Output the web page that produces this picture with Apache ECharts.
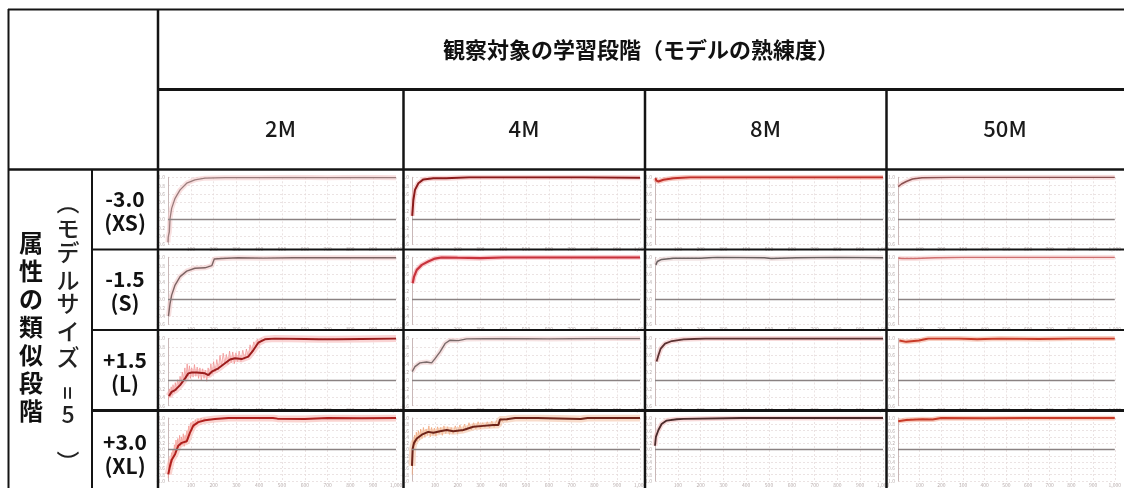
<!DOCTYPE html>
<html><head><meta charset="utf-8">
<script src="https://cdn.jsdelivr.net/npm/echarts@6/dist/echarts.min.js"></script>
<style>html,body{margin:0;padding:0;background:#fff}#c{width:1124px;height:488px}</style>
</head><body><div id="c"></div>
<script>
// ---------- data ----------
const columns = ['2M', '4M', '8M', '50M'];
const rowValues = ['-3.0', '-1.5', '+1.5', '+3.0'];
const rowSizes = ['(XS)', '(S)', '(L)', '(XL)'];
const headerTitle = '観察対象の学習段階（モデルの熟練度）';
const sideTitle = '属性の類似段階';
const sideSub = ['（', 'モ', 'デ', 'ル', 'サ', 'イ', 'ズ', '=', '5', '）'];
const xTicks = [0, 100, 200, 300, 400, 500, 600, 700, 800, 900, 1000];

const s_2M_XS = [[0,-0.55],[1,-0.42],[6,-0.3],[9,0.02],[16,0.26],[31,0.5],[53,0.7],[82,0.86],[118,0.94],[162,0.98],[250,0.99],[400,0.99],[550,1.0],[700,0.99],[850,1.0],[1000,0.99]];
const s_2M_S = [[2,-0.4],[9,-0.1],[16,0.1],[31,0.34],[53,0.54],[82,0.67],[118,0.74],[162,0.75],[192,0.8],[203,0.96],[235,0.97],[308,0.99],[420,0.98],[550,0.99],[700,0.99],[850,0.99],[1000,0.99]];
const s_2M_L = [[4,-0.37],[16,-0.27],[31,-0.23],[53,-0.11],[75,0.05],[89,0.17],[104,0.19],[126,0.19],[162,0.17],[177,0.13],[192,0.21],[221,0.29],[250,0.41],[272,0.5],[294,0.53],[323,0.51],[352,0.57],[374,0.72],[396,0.9],[425,0.98],[469,1.0],[600,0.99],[660,0.98],[740,0.98],[850,0.99],[1000,1.0]];
const s_2M_XL = [[1,-0.79],[9,-0.52],[16,-0.33],[31,-0.15],[45,0.12],[60,0.21],[82,0.26],[96,0.53],[111,0.76],[133,0.87],[162,0.93],[206,0.97],[265,1.0],[460,1.0],[480,0.98],[600,0.97],[700,1.0],[850,0.99],[1000,1.0]];
const s_4M_XS = [[1,0.08],[6,0.46],[13,0.7],[28,0.86],[50,0.95],[94,0.98],[150,0.98],[250,1.0],[500,1.0],[750,1.0],[1000,0.99]];
const s_4M_S = [[3,0.38],[9,0.54],[21,0.7],[43,0.82],[71,0.9],[101,0.97],[130,1.0],[200,0.99],[300,0.98],[400,1.0],[700,1.0],[1000,1.0]];
const s_4M_L = [[1,0.21],[13,0.33],[35,0.42],[64,0.44],[86,0.42],[101,0.52],[123,0.68],[145,0.88],[167,0.96],[203,0.95],[240,0.99],[400,1.0],[600,0.99],[800,1.0],[1000,1.0]];
const s_4M_XL = [[0,-0.52],[3,0.03],[9,0.21],[21,0.35],[43,0.47],[71,0.56],[94,0.53],[123,0.58],[152,0.62],[181,0.58],[225,0.62],[269,0.72],[313,0.75],[357,0.78],[379,0.78],[386,0.95],[415,0.96],[452,1.0],[550,1.0],[740,0.97],[770,1.0],[1000,1.0]];
const s_8M_XS = [[2,0.98],[6,0.92],[15,0.9],[37,0.94],[81,0.98],[154,1.0],[400,1.0],[700,1.0],[1000,1.0]];
const s_8M_S = [[4,0.82],[10,0.9],[29,0.95],[81,0.98],[200,0.98],[272,1.0],[480,0.99],[510,0.97],[620,0.99],[800,1.0],[1000,0.99]];
const s_8M_L = [[7,0.45],[15,0.6],[25,0.76],[44,0.88],[74,0.94],[125,0.98],[220,1.0],[500,1.0],[750,1.0],[1000,1.0]];
const s_8M_XL = [[0,0.12],[4,0.4],[15,0.62],[29,0.81],[51,0.92],[96,0.96],[125,0.97],[380,1.0],[700,1.0],[1000,1.0]];
const s_50M_XS = [[1,0.78],[16,0.84],[38,0.9],[67,0.96],[111,0.99],[250,1.0],[600,1.0],[1000,1.0]];
const s_50M_S = [[2,0.98],[20,0.97],[80,0.97],[170,0.99],[300,1.0],[600,1.0],[1000,1.0]];
const s_50M_L = [[6,0.95],[38,0.92],[97,0.95],[140,1.0],[280,1.0],[365,0.98],[470,1.0],[650,0.99],[800,1.0],[1000,1.0]];
const s_50M_XL = [[1,0.9],[38,0.94],[111,0.96],[160,0.95],[199,1.0],[400,0.99],[600,1.0],[1000,1.0]];

// noisy spread
const n_2M_L = [[2,-0.45],[6,-0.2],[10,-0.4],[14,-0.15],[18,-0.35],[22,-0.1],[27,-0.3],[32,-0.05],[37,-0.25],[42,0.02],[48,-0.15],[53,0.1],[58,-0.05],[63,0.2],[68,0.0],[74,0.3],[79,0.05],[84,0.4],[89,0.1],[94,0.35],[99,0.05],[104,0.3],[110,0.08],[116,0.38],[122,0.1],[128,0.32],[134,0.05],[140,0.3],[146,0.0],[152,0.28],[158,0.05],[164,0.25],[170,-0.02],[176,0.3],[182,0.1],[188,0.4],[194,0.15],[200,0.45],[207,0.2],[214,0.5],[221,0.25],[228,0.6],[235,0.35],[242,0.65],[249,0.4],[256,0.62],[263,0.38],[270,0.7],[277,0.42],[284,0.68],[291,0.4],[298,0.66],[305,0.45],[312,0.7],[320,0.45],[328,0.72],[336,0.5],[344,0.75],[352,0.55],[360,0.85],[368,0.65],[376,0.92],[384,0.8],[392,0.98],[400,0.85],[410,1.0],[420,0.94],[430,1.0]];
const n_2M_XL = [[1,-0.9],[4,-0.4],[7,-0.75],[10,-0.3],[13,-0.55],[16,-0.1],[19,-0.4],[22,0.0],[25,-0.25],[28,0.15],[31,-0.1],[35,0.3],[39,0.0],[43,0.35],[47,0.05],[51,0.45],[55,0.1],[59,0.4],[63,0.15],[67,0.5],[71,0.1],[75,0.45],[79,0.2],[83,0.6],[87,0.3],[91,0.75],[95,0.45],[100,0.85],[105,0.6],[110,0.9],[115,0.7],[120,0.95],[126,0.8],[132,0.98],[138,0.85],[145,1.0],[152,0.9],[160,1.0]];
const n_4M_XL = [[1,-0.8],[3,-0.2],[5,0.3],[8,0.0],[11,0.45],[15,0.15],[19,0.55],[23,0.25],[28,0.6],[33,0.3],[38,0.65],[44,0.35],[50,0.7],[56,0.4],[62,0.65],[68,0.45],[74,0.75],[80,0.4],[86,0.7],[92,0.45],[98,0.68],[105,0.42],[112,0.72],[119,0.5],[126,0.7],[133,0.45],[140,0.75],[148,0.5],[156,0.72],[164,0.48],[172,0.7],[180,0.5],[190,0.75],[200,0.5],[210,0.78],[220,0.55],[230,0.8],[240,0.6],[250,0.85],[260,0.62],[270,0.85],[280,0.65],[290,0.88],[300,0.65],[310,0.85],[320,0.7],[330,0.88],[340,0.68],[350,0.9],[360,0.7],[370,0.92],[380,0.75],[388,1.0],[396,0.88],[405,1.0],[415,0.9],[430,1.0]];

const panels = [
  [s_2M_XS, s_2M_S, s_2M_L, s_2M_XL],
  [s_4M_XS, s_4M_S, s_4M_L, s_4M_XL],
  [s_8M_XS, s_8M_S, s_8M_L, s_8M_XL],
  [s_50M_XS, s_50M_S, s_50M_L, s_50M_XL]
];
const noise = { '0_2': n_2M_L, '0_3': n_2M_XL, '1_3': n_4M_XL };

// ---------- style / layout ----------
const lineColors = [
  ['#9a7c7c', '#7d6464', '#9b1c1c', '#b0201e'],
  ['#8a1a1a', '#c8323c', '#7a6a6a', '#6e2318'],
  ['#c0302a', '#6a6060', '#5a3030', '#4a2a2a'],
  ['#8a5050', '#d07070', '#c83a28', '#c83a28']
];
const lineWidths = [
  [1.3, 1.4, 2.0, 2.0],
  [2.0, 2.2, 1.4, 2.0],
  [2.0, 1.5, 1.8, 1.8],
  [1.5, 1.6, 2.0, 2.0]
];
const bandColors = [
  ['#f4c6c6', '#f1c4c4', '#f5b0b0', '#f5b0aa'],
  ['#f3b3b3', '#f5a0a8', '#eecaca', '#f3c0a0'],
  ['#f29c90', '#e8d0d0', '#f3bcbc', '#f3bcbc'],
  ['#f0c0c0', '#f5cccc', '#f3a890', '#f3a890']
];
const noiseColors = { '0_2': '#f08a8a', '0_3': '#f2908a', '1_3': '#f0a070' };
const colLeft = [168, 412, 655, 898];
const colWidth = 228;
const rowTop = [177.3, 257.3, 338.5, 418];
const rowHeight = [67.2, 67.2, 67.2, 73];
const rowMin = [-0.6, -0.6, -0.6, -1.0];

const FONT = '"Noto Sans CJK JP", "Noto Sans", sans-serif';

const grids = [], xAxes = [], yAxes = [], series = [];
let idx = 0;
for (let c = 0; c < 4; c++) {
  for (let r = 0; r < 4; r++) {
    grids.push({ left: colLeft[c], top: rowTop[r], width: colWidth, height: rowHeight[r], containLabel: false });
    xAxes.push({
      type: 'value', gridIndex: idx, min: xTicks[0], max: xTicks[xTicks.length - 1], interval: xTicks[1] - xTicks[0],
      axisLine: { show: false }, axisTick: { show: false },
      axisLabel: { show: true, fontSize: 5, color: '#b9aeae', margin: 2, showMinLabel: false, fontFamily: FONT },
      splitLine: { show: true, lineStyle: { color: '#e6dcdc', width: 0.8, type: [2, 2] } }
    });
    yAxes.push({
      type: 'value', gridIndex: idx, min: rowMin[r], max: 1.0, interval: 0.2,
      axisLine: { show: true, onZero: false, lineStyle: { color: '#c9b8b8', width: 1 } }, axisTick: { show: false },
      axisLabel: { show: true, fontSize: 5, color: '#b9aeae', margin: 3, fontFamily: FONT, formatter: v => v.toFixed(1) },
      splitLine: { show: true, lineStyle: { color: '#e6dcdc', width: 0.8, type: [2, 2] } }
    });
    const key = c + '_' + r;
    if (noise[key]) {
      series.push({
        type: 'line', xAxisIndex: idx, yAxisIndex: idx, data: noise[key], symbol: 'none', silent: true,
        lineStyle: { color: noiseColors[key], width: 1, opacity: 0.7 }, z: 1
      });
    }
    series.push({
      type: 'line', xAxisIndex: idx, yAxisIndex: idx, data: panels[c][r], symbol: 'none', silent: true,
      lineStyle: { color: bandColors[c][r], width: noise[key] ? 7 : 5, opacity: 0.55 }, z: 2
    });
    series.push({
      type: 'line', xAxisIndex: idx, yAxisIndex: idx, data: panels[c][r], symbol: 'none', silent: true,
      lineStyle: { color: lineColors[c][r], width: lineWidths[c][r] }, z: 3,
      markLine: { silent: true, symbol: 'none', label: { show: false },
        lineStyle: { color: '#8a8282', width: 1.4, type: 'solid' }, data: [{ yAxis: 0 }] }
    });
    idx++;
  }
}

// ---------- table frame & text ----------
const L = (x1, y1, x2, y2, w) => ({ type: 'line', z: 100, silent: true, shape: { x1, y1, x2, y2 }, style: { stroke: '#141414', lineWidth: w } });
const graphic = [
  L(8, 9.5, 1124, 9.5, 2),
  L(8.5, 9, 8.5, 488, 2),
  L(158, 9, 158, 488, 2.5),
  L(158, 89.5, 1124, 89.5, 3),
  L(8, 169.5, 1124, 169.5, 2.5),
  L(92, 169, 92, 488, 2),
  L(92, 249.5, 1124, 249.5, 2),
  L(92, 330, 1124, 330, 2),
  L(92, 410.5, 1124, 410.5, 3),
  L(403.5, 89, 403.5, 488, 2.5),
  L(645, 89, 645, 488, 2.5),
  L(886.5, 89, 886.5, 488, 2.5)
];
graphic.push({ type: 'text', z: 101, x: 641, y: 50, style: { text: headerTitle, fill: '#111', font: 'bold 22px ' + FONT, textAlign: 'center', textVerticalAlign: 'middle' } });
const colCenters = [280.5, 524, 765.5, 1005];
columns.forEach((t, i) => graphic.push({ type: 'text', z: 101, x: colCenters[i], y: 129, style: { text: t, fill: '#1a1a1a', font: '500 22px ' + FONT, textAlign: 'center', textVerticalAlign: 'middle' } }));
const rowCenters = [211, 291, 372, 454];
rowValues.forEach((t, i) => graphic.push({ type: 'text', z: 101, x: 125, y: rowCenters[i], style: { text: t + '\n' + rowSizes[i], fill: '#111', font: 'bold 21px ' + FONT, lineHeight: 24, textAlign: 'center', textVerticalAlign: 'middle' } }));
sideTitle.split('').forEach((ch, i) => graphic.push({ type: 'text', z: 101, x: 31, y: 243 + i * 28, style: { text: ch, fill: '#111', font: 'bold 24px ' + FONT, textAlign: 'center', textVerticalAlign: 'middle' } }));
const subY = [203, 228, 252, 280, 303, 331, 357, 393, 414, 462];
const subRot = [true, false, false, false, false, false, false, true, false, true];
sideSub.forEach((ch, i) => graphic.push({ type: 'text', z: 101, x: 68, y: subY[i], rotation: subRot[i] ? -Math.PI / 2 : 0, style: { text: ch, fill: '#222', font: '500 23px ' + FONT, textAlign: 'center', textVerticalAlign: 'middle' } }));

const chart = echarts.init(document.getElementById('c'), null, { renderer: 'canvas', width: 1124, height: 488 });
chart.setOption({
  animation: false, backgroundColor: '#ffffff',
  grid: grids, xAxis: xAxes, yAxis: yAxes, series: series, graphic: graphic
});
</script></body></html>
